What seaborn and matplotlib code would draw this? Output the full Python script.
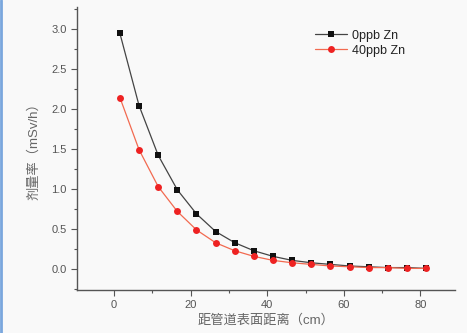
import numpy as np
import pandas as pd
import matplotlib
matplotlib.use("Agg")
import matplotlib.pyplot as plt
import seaborn as sns
from matplotlib.ticker import MultipleLocator

distance = [1.5, 6.5, 11.5, 16.5, 21.5, 26.5, 31.5, 36.5, 41.5, 46.5, 51.5, 56.5, 61.5, 66.5, 71.5, 76.5, 81.5]
zn0 = [2.94, 2.04, 1.42, 0.99, 0.69, 0.47, 0.33, 0.23, 0.16, 0.11, 0.08, 0.06, 0.04, 0.03, 0.02, 0.02, 0.01]
zn40 = [2.14, 1.49, 1.03, 0.72, 0.49, 0.33, 0.23, 0.16, 0.11, 0.08, 0.06, 0.04, 0.03, 0.02, 0.02, 0.01, 0.01]
labels = ["0ppb Zn", "40ppb Zn"]

sns.set_style("ticks")
plt.rcParams['font.family'] = ['Liberation Sans', 'Noto Sans CJK SC', 'DejaVu Sans']

df = pd.DataFrame({
    "x": distance * 2,
    "y": zn0 + zn40,
    "series": [labels[0]] * len(distance) + [labels[1]] * len(distance),
})

fig = plt.figure(figsize=(4.67, 3.33), dpi=100, facecolor="#f9f9f9")
ax = fig.add_axes([0.165, 0.129, 0.809, 0.85])
ax.set_facecolor("#f9f9f9")

sns.lineplot(data=df, x="x", y="y", hue="series", style="series",
             palette={labels[0]: "#111111", labels[1]: "#ee2222"},
             markers={labels[0]: "s", labels[1]: "o"}, dashes=False,
             markersize=5, markeredgewidth=0, linewidth=0.9, ax=ax)

line_cols = {labels[0]: "#444444", labels[1]: "#f26a50"}
mark_cols = {labels[0]: "#111111", labels[1]: "#ee2222"}

ax.set_xlim(-9.7, 89)
ax.set_ylim(-0.26, 3.27)
ax.xaxis.set_major_locator(MultipleLocator(20))
ax.xaxis.set_minor_locator(MultipleLocator(10))
ax.yaxis.set_major_locator(MultipleLocator(0.5))
ax.yaxis.set_minor_locator(MultipleLocator(0.25))
ax.yaxis.set_major_formatter(matplotlib.ticker.FormatStrFormatter('%.1f'))
for s in ["top", "right"]:
    ax.spines[s].set_visible(False)
for s in ["left", "bottom"]:
    ax.spines[s].set_color("#555555")
    ax.spines[s].set_linewidth(1.0)
ax.tick_params(which="major", length=4, width=0.8, color="#555555", labelsize=8, labelcolor="#555555")
ax.tick_params(which="minor", length=2.5, width=0.8, color="#555555")

ax.set_xlabel("距管道表面距离（cm）", fontsize=9.5, color="#666666", labelpad=3)
ax.set_ylabel("剂量率（mSv/h）", fontsize=9.5, color="#666666", labelpad=8)

leg = ax.legend(loc="upper left", bbox_to_anchor=(0.6, 0.96), frameon=False,
                fontsize=9, handlelength=2.6, handletextpad=0.4, labelspacing=0.25)
for t in leg.get_texts():
    t.set_color("#222222")

for ln, lab in zip(ax.lines[:2], labels):
    ln.set_color(line_cols[lab])
    ln.set_markerfacecolor(mark_cols[lab])
    ln.set_markeredgecolor(mark_cols[lab])
for ln, lab in zip(leg.get_lines(), labels):
    ln.set_color(line_cols[lab])
    ln.set_markerfacecolor(mark_cols[lab])
    ln.set_markeredgecolor(mark_cols[lab])

fig.add_artist(plt.Line2D([0.002, 0.002], [0, 1], color="#7aa7dd", linewidth=2, transform=fig.transFigure))

fig.savefig("out.png", dpi=100, facecolor=fig.get_facecolor())
